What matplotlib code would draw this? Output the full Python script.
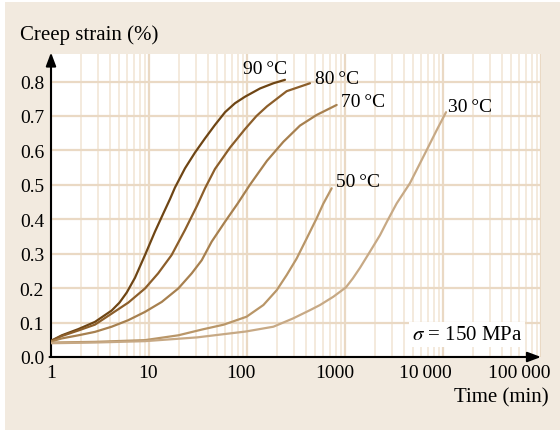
import numpy as np
import matplotlib
matplotlib.use("Agg")
import matplotlib.pyplot as plt
from matplotlib.patches import Rectangle
from matplotlib.transforms import ScaledTranslation

# creep curves: time (min), strain (%)
t_90 = [1, 1.29, 1.9, 2.81, 4.16, 5.0, 5.92, 7.19, 9.1, 11.5, 14.0, 16.4, 18.4, 23.3, 29.5, 37.3,
        47.1, 59.7, 75.4, 95.5, 136, 186, 244]
s_90 = [0.047, 0.063, 0.081, 0.102, 0.135, 0.158, 0.187, 0.230, 0.296, 0.364, 0.417, 0.459, 0.492,
        0.548, 0.594, 0.635, 0.674, 0.711, 0.737, 0.756, 0.780, 0.795, 0.805]
t_80 = [1, 1.29, 1.9, 2.81, 4.16, 6.15, 9.1, 12.4, 17.0, 23.3, 31, 37.3, 47.1, 67, 95.5, 125,
        160, 254, 439]
s_80 = [0.046, 0.061, 0.077, 0.094, 0.126, 0.158, 0.199, 0.243, 0.296, 0.369, 0.440, 0.490, 0.546,
        0.608, 0.662, 0.700, 0.728, 0.772, 0.795]
t_70 = [1, 1.29, 1.9, 2.81, 4.16, 6.15, 9.1, 13.5, 19.9, 27.3, 34.5, 43.6, 59.7, 80, 107, 160,
        235, 347, 514, 822]
s_70 = [0.045, 0.054, 0.063, 0.073, 0.088, 0.107, 0.131, 0.160, 0.199, 0.243, 0.281, 0.335, 0.393,
        0.445, 0.500, 0.570, 0.625, 0.672, 0.703, 0.732]
t_50 = [1, 2.81, 9.1, 19.9, 35, 58, 99, 147, 201, 254, 321, 406, 514, 600, 731]
s_50 = [0.042, 0.044, 0.049, 0.063, 0.080, 0.094, 0.117, 0.151, 0.194, 0.238, 0.286, 0.344, 0.403,
        0.445, 0.490]
t_30 = [1, 2.81, 9.1, 31, 97, 186, 295, 439, 556, 760, 1020, 1200, 1422, 1798, 2277, 2700, 3367,
        4603, 6820, 8630, 10740]
s_30 = [0.040, 0.042, 0.046, 0.057, 0.074, 0.088, 0.112, 0.136, 0.151, 0.175, 0.202, 0.228, 0.259,
        0.306, 0.354, 0.395, 0.446, 0.505, 0.601, 0.659, 0.711]

labels = ["90\u2009°C", "80\u2009°C", "70\u2009°C", "50\u2009°C", "30\u2009°C"]
label_pos = [(91, 0.839), (494, 0.81), (910, 0.743), (809, 0.51), (11247, 0.728)]
colors = ["#6e4514", "#8c5e2a", "#a7804f", "#b99668", "#c7a985"]

xticks = [1, 10, 100, 1000, 10000, 100000]
xticklabels = ["1", "10", "100", "1000", "10\u2009000", "100\u2009000"]
yticks = [0.0, 0.1, 0.2, 0.3, 0.4, 0.5, 0.6, 0.7, 0.8]

plt.rcParams['font.family'] = ['Liberation Serif', 'DejaVu Serif']
plt.rcParams['mathtext.fontset'] = 'stix'
bg = "#f2eadf"

fig = plt.figure(figsize=(5.6, 4.31), dpi=100, facecolor="white")
fig.patches.append(Rectangle((5 / 560, 0), 1, 1 - 3 / 431, transform=fig.transFigure,
                             facecolor=bg, edgecolor="none", zorder=-10))
ax = fig.add_axes([51 / 560, 73 / 431, 490 / 560, 303 / 431])
ax.set_zorder(2)
ax.set_facecolor("white")

ax.set_xscale("log")
ax.set_xlim(1, 100000)
ax.set_ylim(0, 0.88)

# grid
ax.set_yticks(yticks)
ax.set_yticklabels([f"{v:.1f}" for v in yticks])
ax.set_xticks(xticks)
ax.set_xticklabels(xticklabels)
ax.grid(True, which="major", axis="both", color="#ead9c4", lw=1.6, zorder=0)
ax.grid(True, which="minor", axis="x", color="#f3e8da", lw=1.3, zorder=0)
ax.tick_params(which="both", length=0, labelsize=14)
ax.tick_params(axis="y", pad=5)
ax.tick_params(axis="x", pad=5)
ax.xaxis.set_minor_formatter(matplotlib.ticker.NullFormatter())

for lab in ax.get_xticklabels():
    if lab.get_text() == "1":
        continue
    lab.set_horizontalalignment("right")
    lab.set_transform(lab.get_transform() + ScaledTranslation(9 / 100, 0, fig.dpi_scale_trans))

for sp in ax.spines.values():
    sp.set_visible(False)

# axis lines with arrows
ax.annotate("", xy=(0, 1.005), xytext=(0, 0), xycoords="axes fraction",
            arrowprops=dict(arrowstyle="-|>,head_length=0.8,head_width=0.3", color="black", lw=1.5,
                            shrinkA=0, shrinkB=0), annotation_clip=False)
ax.annotate("", xy=(1.0, 0), xytext=(-0.003, 0), xycoords="axes fraction",
            arrowprops=dict(arrowstyle="-|>,head_length=0.8,head_width=0.3", color="black", lw=1.5,
                            shrinkA=0, shrinkB=0), annotation_clip=False)

series = [(t_90, s_90), (t_80, s_80), (t_70, s_70), (t_50, s_50), (t_30, s_30)]
for (t, s), c in zip(series, colors):
    ax.plot(t, s, color=c, lw=1.6, solid_capstyle="round", solid_joinstyle="round", zorder=3)

for lab, (x, y) in zip(labels, label_pos):
    ax.text(x, y, lab, fontsize=14, ha="left", va="center", zorder=4)

ax.text(4830, 0.065, "$\\sigma$ = 150 MPa", fontsize=15, ha="left", va="center", zorder=4,
        bbox=dict(facecolor="white", edgecolor="none", pad=2))

fig.text(20 / 560, 1 - 35 / 431, "Creep strain (%)", fontsize=15, ha="left", va="center")
fig.text(549 / 560, 1 - 398 / 431, "Time (min)", fontsize=15, ha="right", va="center")

fig.savefig("out.png", dpi=100, facecolor=fig.get_facecolor())
